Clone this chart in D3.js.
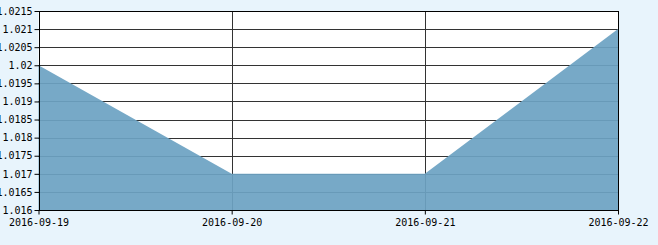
<!DOCTYPE html>
<html>
<head>
<meta charset="utf-8">
<script src="https://cdn.jsdelivr.net/npm/d3@7"></script>
<style>
  html, body { margin: 0; padding: 0; background: #e8f4fc; }
  svg { display: block; }
  text { font-family: "DejaVu Sans Mono", monospace; font-size: 10px; fill: #000; }
</style>
</head>
<body>
<div id="chart"></div>
<script>
// values
const dates = ["2016-09-19", "2016-09-20", "2016-09-21", "2016-09-22"];
const values = [1.020, 1.017, 1.017, 1.021];
const yTicks = [1.016, 1.0165, 1.017, 1.0175, 1.018, 1.0185, 1.019, 1.0195, 1.02, 1.0205, 1.021, 1.0215];

const width = 658, height = 245;
const margin = {top: 11, right: 40, bottom: 35, left: 38.5};

const svg = d3.select("#chart").append("svg")
  .attr("width", width)
  .attr("height", height);

const x = d3.scalePoint()
  .domain(dates)
  .range([margin.left, width - margin.right]);

const y = d3.scaleLinear()
  .domain([1.016, 1.0215])
  .range([height - margin.bottom, margin.top]);

// plot background
svg.append("rect")
  .attr("x", margin.left)
  .attr("y", margin.top)
  .attr("width", x.range()[1] - margin.left)
  .attr("height", y(1.016) - margin.top)
  .attr("fill", "#fff");

// grid
svg.append("g")
  .selectAll("line.h")
  .data(yTicks)
  .join("line")
  .attr("x1", margin.left).attr("x2", x.range()[1])
  .attr("y1", d => Math.round(y(d)) + 0.5).attr("y2", d => Math.round(y(d)) + 0.5)
  .attr("stroke", "#333");

svg.append("g")
  .selectAll("line.v")
  .data(dates.slice(1, -1))
  .join("line")
  .attr("x1", d => Math.round(x(d)) + 0.5).attr("x2", d => Math.round(x(d)) + 0.5)
  .attr("y1", margin.top).attr("y2", y(1.016))
  .attr("stroke", "#333");

// area
const area = d3.area()
  .x((d, i) => x(dates[i]))
  .y0(y(1.016))
  .y1(d => y(d));

svg.append("path")
  .datum(values)
  .attr("d", area)
  .attr("fill", "#6da3c3")
  .attr("fill-opacity", 0.93);

// frame
svg.append("rect")
  .attr("x", Math.round(margin.left) + 0.5)
  .attr("y", margin.top + 0.5)
  .attr("width", Math.round(x.range()[1]) - Math.round(margin.left))
  .attr("height", Math.round(y(1.016)) - margin.top)
  .attr("fill", "none")
  .attr("stroke", "#000");

// axes
const yAxis = d3.axisLeft(y)
  .tickValues(yTicks)
  .tickFormat(d => String(+d.toFixed(4)))
  .tickSize(5)
  .tickPadding(2);

svg.append("g")
  .attr("transform", `translate(${Math.round(margin.left) + 0.5},0)`)
  .call(yAxis)
  .call(g => g.select(".domain").remove())
  .call(g => g.selectAll("text").style("font-family", "DejaVu Sans Mono, monospace").style("font-size", "10px"));

const xAxis = d3.axisBottom(x)
  .tickSize(4)
  .tickPadding(4);

svg.append("g")
  .attr("transform", `translate(0,${Math.round(y(1.016)) + 0.5})`)
  .call(xAxis)
  .call(g => g.select(".domain").remove())
  .call(g => g.selectAll("text").style("font-family", "DejaVu Sans Mono, monospace").style("font-size", "10px"));
</script>
</body>
</html>
